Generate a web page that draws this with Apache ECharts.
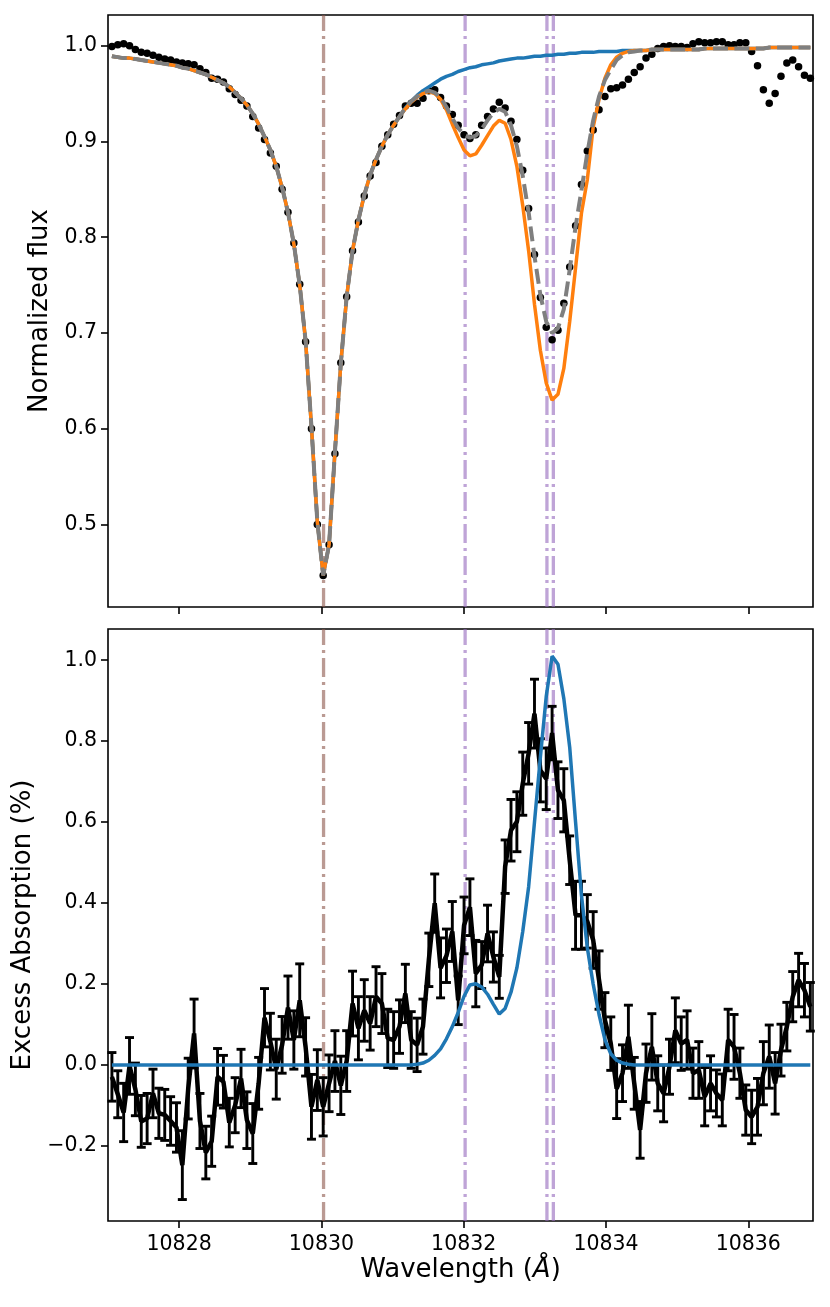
<!DOCTYPE html>
<html>
<head>
<meta charset="utf-8">
<title>He I 10830 transmission</title>
<script src="https://cdn.jsdelivr.net/npm/echarts@6.0.0/dist/echarts.min.js"></script>
<style>
  html, body { margin: 0; padding: 0; background: #fff; }
  #chart { width: 830px; height: 1307px; }
</style>
</head>
<body>
<div id="chart"></div>
<script>
// wavelength sampling of the spectrum (Angstrom), one value per pixel of the grid
var waveStart = 10827.055
var waveStep = 0.0825
var nPoints = 120

// top panel: observed normalized flux (black dots)
var fluxObs = [
  0.999, 1.001, 1.002, 1.000, 0.996, 0.993, 0.992, 0.990, 0.988, 0.986,
  0.985, 0.983, 0.982, 0.981, 0.980, 0.976, 0.972, 0.966, 0.965, 0.962,
  0.955, 0.949, 0.943, 0.937, 0.926, 0.914, 0.902, 0.888, 0.874, 0.850,
  0.826, 0.794, 0.751, 0.691, 0.600, 0.500, 0.447, 0.479, 0.574, 0.669,
  0.738, 0.786, 0.816, 0.843, 0.864, 0.878, 0.895, 0.907, 0.918, 0.927,
  0.937, 0.940, 0.940, 0.945, 0.953, 0.954, 0.946, 0.937, 0.928, 0.917,
  0.907, 0.903, 0.907, 0.917, 0.926, 0.934, 0.941, 0.935, 0.921, 0.902,
  0.870, 0.830, 0.782, 0.737, 0.706, 0.693, 0.703, 0.731, 0.769, 0.812,
  0.855, 0.890, 0.912, 0.933, 0.947, 0.955, 0.956, 0.959, 0.965, 0.972,
  0.978, 0.987, 0.991, 0.997, 0.999, 1.000, 0.999, 0.999, 0.998, 1.002,
  1.004, 1.003, 1.003, 1.004, 1.004, 1.001, 1.001, 1.003, 1.003, 0.994,
  0.979, 0.954, 0.940, 0.950, 0.968, 0.982, 0.985, 0.978, 0.969, 0.966
]

// Si I line alone (blue)
var fluxSi = [
  0.989, 0.988, 0.987, 0.987, 0.986, 0.985, 0.984, 0.983, 0.982, 0.981,
  0.980, 0.979, 0.977, 0.976, 0.974, 0.972, 0.970, 0.967, 0.964, 0.961,
  0.957, 0.951, 0.945, 0.938, 0.929, 0.918, 0.905, 0.891, 0.874, 0.852,
  0.826, 0.793, 0.750, 0.692, 0.602, 0.503, 0.447, 0.479, 0.576, 0.668,
  0.738, 0.786, 0.818, 0.844, 0.865, 0.881, 0.895, 0.907, 0.917, 0.926,
  0.935, 0.942, 0.948, 0.953, 0.957, 0.961, 0.965, 0.968, 0.970, 0.973,
  0.975, 0.977, 0.978, 0.980, 0.981, 0.982, 0.984, 0.985, 0.986, 0.987,
  0.987, 0.988, 0.989, 0.989, 0.990, 0.990, 0.991, 0.991, 0.992, 0.992,
  0.993, 0.993, 0.993, 0.994, 0.994, 0.994, 0.994, 0.995, 0.995, 0.995,
  0.995, 0.995, 0.996, 0.996, 0.996, 0.996, 0.996, 0.996, 0.996, 0.996,
  0.996, 0.997, 0.997, 0.997, 0.997, 0.997, 0.997, 0.997, 0.997, 0.997,
  0.997, 0.997, 0.998, 0.998, 0.998, 0.998, 0.998, 0.998, 0.998, 0.998
]

// Si I + He I model (orange)
var fluxModelA = [
  0.989, 0.988, 0.987, 0.987, 0.986, 0.985, 0.984, 0.983, 0.982, 0.981,
  0.980, 0.979, 0.977, 0.976, 0.974, 0.972, 0.970, 0.967, 0.964, 0.961,
  0.957, 0.951, 0.945, 0.938, 0.929, 0.918, 0.905, 0.891, 0.874, 0.852,
  0.826, 0.793, 0.750, 0.692, 0.602, 0.503, 0.447, 0.479, 0.576, 0.668,
  0.738, 0.786, 0.818, 0.844, 0.865, 0.881, 0.895, 0.907, 0.917, 0.926,
  0.934, 0.941, 0.946, 0.950, 0.952, 0.950, 0.944, 0.933, 0.918, 0.904,
  0.891, 0.885, 0.887, 0.896, 0.906, 0.916, 0.922, 0.919, 0.902, 0.874,
  0.833, 0.786, 0.730, 0.682, 0.648, 0.630, 0.636, 0.663, 0.712, 0.768,
  0.825, 0.860, 0.915, 0.944, 0.966, 0.980, 0.988, 0.992, 0.994, 0.995,
  0.995, 0.995, 0.996, 0.996, 0.996, 0.996, 0.996, 0.996, 0.996, 0.996,
  0.996, 0.997, 0.997, 0.997, 0.997, 0.997, 0.997, 0.997, 0.997, 0.997,
  0.997, 0.997, 0.998, 0.998, 0.998, 0.998, 0.998, 0.998, 0.998, 0.998
]

// Si I + He I model, second fit (grey dashed)
var fluxModelB = [
  0.989, 0.988, 0.987, 0.987, 0.986, 0.985, 0.984, 0.983, 0.982, 0.981,
  0.980, 0.979, 0.977, 0.976, 0.974, 0.972, 0.970, 0.967, 0.964, 0.961,
  0.957, 0.951, 0.945, 0.938, 0.929, 0.918, 0.905, 0.891, 0.874, 0.852,
  0.826, 0.793, 0.750, 0.692, 0.602, 0.503, 0.447, 0.479, 0.576, 0.668,
  0.738, 0.786, 0.818, 0.844, 0.865, 0.881, 0.895, 0.907, 0.917, 0.926,
  0.935, 0.942, 0.947, 0.951, 0.953, 0.951, 0.946, 0.936, 0.924, 0.914,
  0.907, 0.904, 0.906, 0.913, 0.922, 0.930, 0.934, 0.931, 0.917, 0.895,
  0.864, 0.826, 0.780, 0.740, 0.712, 0.700, 0.705, 0.725, 0.766, 0.811,
  0.849, 0.888, 0.922, 0.947, 0.964, 0.975, 0.985, 0.990, 0.993, 0.994,
  0.995, 0.995, 0.996, 0.996, 0.996, 0.996, 0.996, 0.996, 0.996, 0.996,
  0.996, 0.997, 0.997, 0.997, 0.997, 0.997, 0.997, 0.997, 0.997, 0.997,
  0.997, 0.997, 0.998, 0.998, 0.998, 0.998, 0.998, 0.998, 0.998, 0.998
]

// bottom panel: excess absorption (%) with 1-sigma errors
var excess = [
  -0.029, -0.072, -0.117, -0.002, -0.060, -0.139, -0.132, -0.070, -0.119, -0.123,
  -0.138, -0.154, -0.247, -0.058, 0.078, -0.138, -0.216, -0.188, -0.029, -0.041,
  -0.142, -0.099, -0.033, -0.136, -0.169, -0.045, 0.117, 0.058, -0.010, 0.050,
  0.142, 0.062, 0.160, 0.045, -0.103, -0.037, -0.103, -0.045, 0.010, -0.050,
  0.010, 0.152, 0.091, 0.135, 0.103, 0.169, 0.152, 0.066, 0.062, 0.095,
  0.177, 0.062, 0.050, 0.095, 0.260, 0.400, 0.240, 0.270, 0.330, 0.160,
  0.345, 0.390, 0.226, 0.247, 0.325, 0.267, 0.218, 0.490, 0.580, 0.601,
  0.695, 0.770, 0.868, 0.728, 0.707, 0.820, 0.679, 0.654, 0.506, 0.370,
  0.370, 0.355, 0.309, 0.210, 0.111, 0.053, -0.058, -0.020, 0.070, -0.045,
  -0.160, -0.020, 0.045, -0.045, -0.070, -0.004, 0.086, 0.053, 0.062, -0.020,
  -0.012, -0.078, -0.045, -0.070, -0.086, 0.062, 0.045, -0.020, -0.111, -0.128,
  -0.103, -0.020, 0.021, -0.045, 0.037, 0.095, 0.169, 0.210, 0.185, 0.144
]

var excessErr = [
  0.060, 0.058, 0.072, 0.070, 0.065, 0.064, 0.062, 0.060, 0.062, 0.063,
  0.060, 0.061, 0.085, 0.075, 0.085, 0.068, 0.065, 0.062, 0.070, 0.065,
  0.060, 0.068, 0.072, 0.070, 0.074, 0.064, 0.072, 0.070, 0.074, 0.070,
  0.078, 0.072, 0.090, 0.072, 0.080, 0.075, 0.072, 0.070, 0.075, 0.072,
  0.075, 0.080, 0.078, 0.076, 0.066, 0.074, 0.074, 0.072, 0.070, 0.066,
  0.072, 0.070, 0.066, 0.068, 0.066, 0.072, 0.074, 0.066, 0.074, 0.060,
  0.070, 0.070, 0.082, 0.058, 0.070, 0.062, 0.053, 0.066, 0.076, 0.074,
  0.078, 0.076, 0.085, 0.078, 0.076, 0.066, 0.070, 0.078, 0.060, 0.084,
  0.084, 0.066, 0.070, 0.072, 0.068, 0.066, 0.074, 0.070, 0.078, 0.064,
  0.070, 0.072, 0.082, 0.068, 0.070, 0.068, 0.080, 0.066, 0.072, 0.062,
  0.070, 0.072, 0.068, 0.058, 0.064, 0.076, 0.080, 0.062, 0.062, 0.066,
  0.070, 0.078, 0.078, 0.076, 0.064, 0.060, 0.062, 0.066, 0.066, 0.060
]

// He I triplet model (blue)
var excessModel = [
  0, 0, 0, 0, 0, 0, 0, 0, 0, 0,
  0, 0, 0, 0, 0, 0, 0, 0, 0, 0,
  0, 0, 0, 0, 0, 0, 0, 0, 0, 0,
  0, 0, 0, 0, 0, 0, 0, 0, 0, 0,
  0, 0, 0, 0, 0, 0, 0, 0, 0, 0,
  0, 0, 0.002, 0.005, 0.012, 0.024, 0.040, 0.065, 0.095, 0.130,
  0.170, 0.198, 0.201, 0.193, 0.175, 0.150, 0.126, 0.140, 0.180, 0.240,
  0.330, 0.440, 0.600, 0.760, 0.910, 1.010, 0.990, 0.905, 0.785, 0.600,
  0.420, 0.290, 0.200, 0.125, 0.063, 0.028, 0.012, 0.005, 0.002, 0,
  0, 0, 0, 0, 0, 0, 0, 0, 0, 0,
  0, 0, 0, 0, 0, 0, 0, 0, 0, 0,
  0, 0, 0, 0, 0, 0, 0, 0, 0, 0
]

// line centres marked with vertical dash-dot lines
var siLines = [10830.03]
var heLines = [10832.02, 10833.17, 10833.26]

var xTicks = [10828, 10830, 10832, 10834, 10836]
var fluxTicks = [0.5, 0.6, 0.7, 0.8, 0.9, 1.0]
var excessTicks = [-0.2, 0, 0.2, 0.4, 0.6, 0.8, 1.0]

var wave = []
for (var i = 0; i < nPoints; i++) {
  wave.push(+(waveStart + i * waveStep).toFixed(4))
}

function pairs (ys) {
  return ys.map(function (y, k) { return [wave[k], y] })
}

var FONT = 'DejaVu Sans'
var xMin = 10827, xMax = 10836.91
var fluxMin = 0.414, fluxMax = 1.032
var excMin = -0.385, excMax = 1.077

function fmt1 (v) {
  return (v < 0 ? '\u2212' : '') + Math.abs(v).toFixed(1)
}

function vline (x, color, gi, ymin, ymax) {
  return {
    type: 'line', xAxisIndex: gi, yAxisIndex: gi,
    data: [[x, ymin], [x, ymax]],
    showSymbol: false, silent: true, z: 1,
    lineStyle: { color: color, width: 3.3, type: [19, 5, 3, 5] }
  }
}

function xAxisFor (gi, withLabels) {
  var ax = {
    type: 'value', gridIndex: gi, min: xMin, max: xMax,
    axisLine: { show: false, onZero: false },
    splitLine: { show: false },
    axisTick: { show: true, length: 7, customValues: xTicks, lineStyle: { color: '#000', width: 1.6 } },
    axisLabel: {
      show: withLabels, customValues: xTicks, margin: 13,
      fontFamily: FONT, fontSize: 20.5, color: '#000',
      formatter: function (v) { return String(Math.round(v)) }
    }
  }
  if (withLabels) {
    ax.name = '{t|Wavelength (}{i|\u00c5}{t|)}'
    ax.nameLocation = 'middle'
    ax.nameGap = 36
    ax.nameTextStyle = {
      fontFamily: FONT, fontSize: 26, color: '#000',
      rich: {
        t: { fontFamily: FONT, fontSize: 26, color: '#000' },
        i: { fontFamily: FONT, fontSize: 26, color: '#000', fontStyle: 'italic' }
      }
    }
  }
  return ax
}

function yAxisFor (gi, min, max, ticks, name, gap) {
  return {
    type: 'value', gridIndex: gi, min: min, max: max,
    name: name, nameLocation: 'middle', nameGap: gap,
    nameTextStyle: { fontFamily: FONT, fontSize: 26, color: '#000' },
    axisLine: { show: false, onZero: false },
    splitLine: { show: false },
    axisTick: { show: true, length: 7, customValues: ticks, lineStyle: { color: '#000', width: 1.6 } },
    axisLabel: {
      customValues: ticks, margin: 11,
      fontFamily: FONT, fontSize: 20.5, color: '#000', formatter: fmt1
    }
  }
}

var series = []

siLines.forEach(function (x) {
  series.push(vline(x, 'rgba(140,86,75,0.6)', 0, fluxMin, fluxMax))
  series.push(vline(x, 'rgba(140,86,75,0.6)', 1, excMin, excMax))
})
heLines.forEach(function (x) {
  series.push(vline(x, 'rgba(148,103,189,0.6)', 0, fluxMin, fluxMax))
  series.push(vline(x, 'rgba(148,103,189,0.6)', 1, excMin, excMax))
})

// top panel
series.push({
  type: 'scatter', xAxisIndex: 0, yAxisIndex: 0, data: pairs(fluxObs),
  symbol: 'circle', symbolSize: 7.5, itemStyle: { color: '#000', opacity: 1 }, z: 2
})
series.push({
  type: 'line', xAxisIndex: 0, yAxisIndex: 0, data: pairs(fluxSi),
  showSymbol: false, z: 3, lineStyle: { color: '#1f77b4', width: 3.5 }
})
series.push({
  type: 'line', xAxisIndex: 0, yAxisIndex: 0, data: pairs(fluxModelA),
  showSymbol: false, z: 4, lineStyle: { color: '#ff7f0e', width: 3.5 }
})
series.push({
  type: 'line', xAxisIndex: 0, yAxisIndex: 0, data: pairs(fluxModelB),
  showSymbol: false, z: 5, lineStyle: { color: '#7f7f7f', width: 4, type: [15, 6.4] }
})

// bottom panel: error bars, data line, model
series.push({
  type: 'custom', xAxisIndex: 1, yAxisIndex: 1, z: 2,
  data: excess.map(function (v, k) { return [wave[k], v, excessErr[k]] }),
  encode: { x: 0, y: 1 },
  renderItem: function (params, api) {
    var x = api.value(0), y = api.value(1), e = api.value(2)
    var hi = api.coord([x, y + e])
    var lo = api.coord([x, y - e])
    var cap = 4.5
    var st = { stroke: '#000', lineWidth: 2.9 }
    return {
      type: 'group',
      children: [
        { type: 'line', shape: { x1: hi[0], y1: hi[1], x2: lo[0], y2: lo[1] }, style: st },
        { type: 'line', shape: { x1: hi[0] - cap, y1: hi[1], x2: hi[0] + cap, y2: hi[1] }, style: st },
        { type: 'line', shape: { x1: lo[0] - cap, y1: lo[1], x2: lo[0] + cap, y2: lo[1] }, style: st }
      ]
    }
  }
})
series.push({
  type: 'line', xAxisIndex: 1, yAxisIndex: 1, data: pairs(excess),
  showSymbol: false, z: 3, lineStyle: { color: '#000', width: 4.5 }
})
series.push({
  type: 'line', xAxisIndex: 1, yAxisIndex: 1, data: pairs(excessModel),
  showSymbol: false, z: 4, lineStyle: { color: '#1f77b4', width: 3.5 }
})

var option = {
  animation: false,
  backgroundColor: '#fff',
  grid: [
    { left: 108, top: 15, width: 705, height: 592, show: true, borderColor: '#000', borderWidth: 1.6, backgroundColor: 'transparent' },
    { left: 108, top: 629, width: 705, height: 592, show: true, borderColor: '#000', borderWidth: 1.6, backgroundColor: 'transparent' }
  ],
  xAxis: [xAxisFor(0, false), xAxisFor(1, true)],
  yAxis: [
    yAxisFor(0, fluxMin, fluxMax, fluxTicks, 'Normalized flux', 52),
    yAxisFor(1, excMin, excMax, excessTicks, 'Excess Absorption (%)', 68)
  ],
  series: series
}

var chart = echarts.init(document.getElementById('chart'), null, { renderer: 'canvas' })
chart.setOption(option)
</script>
</body>
</html>
